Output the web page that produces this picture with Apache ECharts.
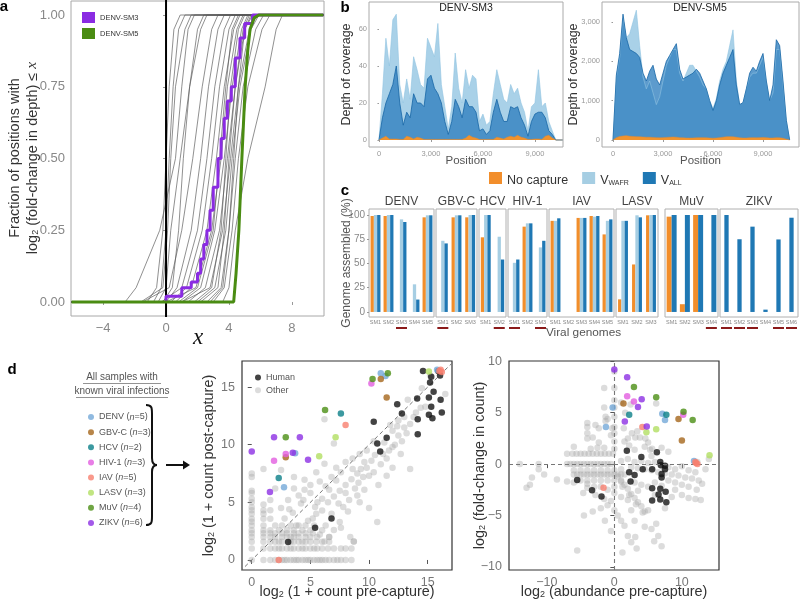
<!DOCTYPE html>
<html>
<head>
<meta charset="utf-8">
<script src="https://cdn.jsdelivr.net/npm/echarts@6.0.0/dist/echarts.min.js"></script>
<style>
html,body{margin:0;padding:0;background:#ffffff;}
#chart{width:800px;height:601px;}
</style>
</head>
<body>
<div id="chart"></div>
<script>
// ======================= DATA =======================
// ---- Panel a: CDFs of log2 fold-change in depth ----
const cdfFractions = [0, 0.05, 0.25, 0.5, 0.75, 0.95, 1];
const grayCdfX = [
  [-2.6, -1.9, -0.4, 0.6, 1.0, 1.4, 1.8],
  [-1.2, -0.6, -0.2, 0.0, 0.2, 0.5, 0.9],
  [-0.8, -0.3, 0.0, 0.2, 0.45, 0.8, 1.2],
  [-1.6, -0.2, 0.1, 0.3, 0.6, 1.2, 1.6],
  [-0.5, 0.0, 0.3, 0.9, 1.5, 2.2, 2.6],
  [-1.5, 0.2, 1.0, 1.7, 2.3, 2.9, 3.3],
  [0.0, 0.7, 1.6, 2.2, 2.7, 3.3, 3.7],
  [-0.3, 1.0, 2.0, 2.6, 3.1, 3.7, 4.1],
  [0.3, 1.3, 2.3, 2.9, 3.4, 4.0, 4.4],
  [0.6, 1.6, 2.6, 3.2, 3.7, 4.3, 4.7],
  [0.0, 1.9, 2.9, 3.5, 3.9, 4.5, 4.9],
  [1.0, 2.2, 3.1, 3.7, 4.2, 4.8, 5.2],
  [1.4, 2.5, 3.4, 3.9, 4.4, 5.0, 5.5],
  [1.0, 2.8, 3.6, 4.1, 4.6, 5.3, 5.8],
  [2.0, 3.1, 3.8, 4.2, 4.7, 5.4, 5.9],
  [2.6, 3.5, 4.0, 4.4, 4.9, 5.7, 6.2],
  [3.0, 3.7, 4.2, 4.6, 5.2, 6.1, 6.6],
  [3.6, 4.0, 4.4, 5.2, 6.3, 7.0, 7.4],
  [0.8, 2.0, 3.0, 3.4, 3.8, 4.2, 4.6],
  [2.8, 3.6, 4.0, 4.3, 4.6, 5.0, 5.4],
  [-0.2, 0.4, 0.8, 1.1, 1.5, 2.0, 2.4],
  [1.8, 2.9, 3.5, 3.8, 4.1, 4.6, 5.0],
  [2.2, 3.3, 3.7, 4.0, 4.4, 4.9, 5.3]
];
const sm3X = [0, 0, 1.0, 1.0, 1.6, 2.0, 2.2, 2.4, 2.6, 2.8, 3.0, 3.3, 3.5, 3.7, 3.9, 4.15, 4.4, 4.7, 5.0, 5.5, 10];
const sm3Y = [0, 0.02, 0.02, 0.05, 0.07, 0.1, 0.15, 0.2, 0.25, 0.32, 0.4, 0.5, 0.57, 0.64, 0.7, 0.75, 0.85, 0.92, 0.97, 1.0, 1.0];
const sm5X = [-6, 4.3, 4.45, 4.63, 4.82, 4.92, 5.03, 5.2, 5.34, 5.6, 5.9, 10];
const sm5Y = [0, 0, 0.1, 0.25, 0.5, 0.62, 0.75, 0.88, 0.95, 0.99, 1.0, 1.0];
const zeroLine = [[0, -1], [0, 2]];
const aXTicks = [-4, 0, 4, 8];
const aYTicks = [0, 0.25, 0.5, 0.75, 1];

// ---- Panel b: depth of coverage ----
const covPositions = [0,200,400,600,800,1000,1200,1400,1600,1800,2000,2200,2400,2600,2800,3000,3200,3400,3600,3800,4000,4200,4400,4600,4800,5000,5200,5400,5600,5800,6000,6200,6400,6600,6800,7000,7200,7400,7600,7800,8000,8200,8400,8600,8800,9000,9200,9400,9600,9800,10000,10200,10400,10600];
const sm3Wafr = [0,25,55,40,65,68,30,20,33,22, 45,38,30,28,55,50,45,63,30,18, 6,18,47,28,20,38,28,35,33,10, 14,8,10,25,38,30,22,20,30,25, 28,20,15,5,18,20,38,18,20,10, 5,0,0,0];
const sm3All  = [0,12,20,25,30,40,20,8,15,12, 25,20,20,18,33,35,28,25,20,10, 3,10,22,18,12,22,18,18,15,5, 6,3,5,15,22,15,10,10,18,17, 18,12,8,2,10,14,15,15,12,5, 3,0,0,0];
const sm3None = [0,1,2,0.5,0.5,0.5,0.3,0.3,2,1.5, 0.5,1.5,1,0.3,0.3,0.3,0.3,0.3,0.3,0.3, 0.3,0.3,0.3,0.3,0.3,1,2.5,1.5,1,0.3, 0.3,0.3,0.3,0.3,1.5,1,0.5,1.5,2,1.5, 2.5,1.5,1,0.3,0.3,0.5,0.5,0.3,2,2.5, 1,0,0,0];
const sm5Wafr = [0,1600,2100,3100,2600,2700,3000,3300,2400,1600, 1300,1500,1200,900,1100,1500,1900,2100,2300,2300, 1700,1500,1700,1900,1900,1750,1600,1400,1300,1000, 800,1050,1500,1800,2000,2400,2800,1500,900,950, 1300,1600,1700,1700,1900,2100,1500,1000,1200,2300, 2300,1400,500,0];
const sm5All  = [0,1650,2200,3200,2600,2300,2250,2200,2100,1700, 1500,1750,1900,1550,1400,1700,2000,2150,2300,2450, 1800,1550,1600,1650,1700,1800,1700,1500,1300,1000, 750,1000,1400,1700,1900,2100,2300,1400,900,950, 1300,1700,1850,1750,2000,2200,1500,1000,1400,2550, 2400,1500,500,0];
const sm5None = [0,60,90,100,110,95,90,85,80,75, 70,70,65,60,55,60,65,70,75,70, 60,55,50,50,50,55,60,60,55,50, 45,50,60,70,80,85,80,70,55,50, 50,55,60,55,60,65,60,50,50,60, 55,45,20,0];
const bXTicks = [0, 3000, 6000, 9000];
const bYTicksSM3 = [0, 20, 40, 60];
const bYTicksSM5 = [0, 1000, 2000, 3000];

// ---- Panel c: genome assembled (%) ----
const virusFacets = ['DENV','GBV-C','HCV','HIV-1','IAV','LASV','MuV','ZIKV'];
const facetSamples = [
  ['SM1','SM2','SM3','SM4','SM5'], ['SM1','SM2','SM3'], ['SM1','SM2'], ['SM1','SM2','SM3'],
  ['SM1','SM2','SM3','SM4','SM5'], ['SM1','SM2','SM3'], ['SM1','SM2','SM3','SM4'],
  ['SM1','SM2','SM3','SM4','SM5','SM6']
];
const pctNoCapture = [[99,99,0,0,97.6],[0,97.6,97.6],[77,0],[0,88,0],[94,0,97,99,80],[13,49,99.7],[98.3,8,100,0],null];
const pctWafr      = [[100,100,95.5,28.5,99.7],[73.4,99.7,100],[100,77.6],[50.7,91.4,66.6],[94,0,97,98.3,94],[94,99.7,100],null,null];
const pctAll       = [[100,100,92.8,12.8,99.7],[70.7,99.7,100],[100,54.1],[54.1,91.4,73.4],[96.6,0,97,99,95.5],[94,97.6,100],[100,100,100,100],[100,75,88,2.4,74.8,97.2]];
const underlined   = [[0,0,1,0,0],[1,0,0],[0,1],[1,0,1],[0,0,0,0,0],[0,0,0],[0,0,0,1],[1,1,1,0,1,1]];
const cYTicks = [0, 25, 50, 75, 100];

// ---- Panel d: read counts ----
const virusNames  = ['DENV','GBV-C','HCV','HIV-1','IAV','LASV','MuV','ZIKV'];
const virusCounts = [5, 3, 2, 3, 5, 3, 4, 6];
const virusPrePost = [
  [[3.7,9.25],[2.75,6.3],[11.0,16.2],[11.4,15.95],[15.8,16.5]],
  [[2.9,8.9],[11.0,15.7],[11.5,14.1]],
  [[2.3,7.1],[7.6,12.7]],
  [[1.9,8.6],[2.9,9.2],[10.2,15.3]],
  [[8.0,11.7],[2.3,0],[16.0,16.4],[16.2,16.3],[16.1,16.5]],
  [[7.15,10.65],[5.75,9.0],[15.1,16.35]],
  [[2.9,10.65],[6.25,13.0],[10.3,15.7],[11.6,16.2]],
  [[0,9.4],[1.9,10.65],[4.1,10.65],[3.5,9.3],[4.8,8.7],[1.55,5.9]]
];
const virusAbundFold = [
  [[-0.25,5.5],[-1.25,3.6],[7.1,4.9],[7.5,4.3],[11.8,0.3]],
  [[1.35,5.9],[9.5,4.4],[10.0,2.3]],
  [[2.2,4.8],[7.7,4.8]],
  [[1.9,6.6],[2.9,6.1],[10.2,4.8]],
  [[4.15,3.6],[-1.6,-2.3],[12.1,0.1],[12.3,0.0],[12.0,0.2]],
  [[4.75,3.1],[6.2,3.4],[14.1,0.87]],
  [[2.9,7.5],[6.2,6.5],[10.25,5.1],[11.6,4.3]],
  [[0,9.2],[1.9,8.45],[4.05,6.3],[3.5,5.55],[1.55,4.15],[4.8,3.65]]
];
const humanPrePost = [[3.1,1.55],[5.4,2.8],[6.8,3.6],[10.4,12.0],[10.7,10.1],[10.95,9.4],[11.5,10.6],[12.4,13.5],[12.8,12.7],[14.1,14.0],[14.15,12.2],[14.15,10.9],[14.6,16.4],[15.2,15.4],[15.3,15.9],[15.5,14.6],[15.1,14.1],[15.3,13.3],[15.1,12.6],[15.4,12.3],[16.05,16.0],[16.1,13.9],[16.2,12.8],[15.9,16.4]];
const humanAbundFold = [[1.85,1.3],[6.3,1.15],[4.0,0.7],[6.8,0.2],[6.9,-0.1],[7.5,-0.15],[7.5,-0.5],[4.2,-0.5],[5.6,-0.5],[2.2,-0.8],[3.0,-1.05],[2.4,-1.7],[7.0,-1.3],[-5.5,-1.55],[-3.3,-2.55],[-1.9,-3.15],[5.6,-2.35],[6.8,-2.4],[6.55,-2.95],[7.6,-2.7],[6.8,-3.45],[5.6,-3.55],[7.7,-3.7],[7.0,-0.97]];
const otherPrePost = [
  [0,0],[1,0],[1.58,0],[2,0],[2.32,0],[2.58,0],[2.81,0],[3,0],[3.32,0],[3.58,0],[3.81,0],[4,0],[4.32,0],[4.58,0],[4.81,0],[5,0],[5.32,0],[5.58,0],[5.81,0],[6.02,0],[6.3,0],[6.6,0],[7,0],[7.3,0],[7.6,0],[8,0],[8.5,0],
  [0,1],[1,1],[1.58,1],[2,1],[2.32,1],[2.58,1],[3,1],[3.32,1],[3.58,1],[4,1],[4.32,1],[4.58,1],[5,1],[5.32,1],[5.58,1],[6,1],[6.5,1],[7,1],[7.6,1],[8,1],[8.5,1],
  [0,1.58],[1,1.58],[1.58,1.58],[2,1.58],[2.32,1.58],[2.58,1.58],[3.32,1.58],[3.58,1.58],[4,1.58],[4.32,1.58],[4.58,1.58],[5,1.58],[5.5,1.58],[6,1.58],[6.6,1.58],[8.7,1.6],
  [0,2],[1,2],[1.58,2],[2,2],[2.58,2],[3,2],[3.32,2],[3.58,2],[4,2],[4.58,2],[5,2],[5.58,2],[6.6,2],[8.4,2],
  [0,2.32],[1,2.32],[1.58,2.32],[2,2.32],[2.58,2.32],[3,2.32],[3.58,2.32],[4,2.32],[4.58,2.32],[5.2,2.32],[5.8,2.2],
  [0,2.58],[1,2.58],[1.58,2.58],[2.32,2.58],[3,2.58],[3.58,2.58],[4.32,2.58],[5,2.58],[6,2.58],[7,2.6],[7.6,2.8],
  [0,3],[1,3],[2,3],[2.58,3],[3.32,3],[4,3],[4.58,3],[5.32,3],[6.3,3],
  [0,3.32],[0,3.58],[0,4],[0,4.32],[0,4.58],[0,5],[0,5.32],[0,5.81],[0,6],[0,7.2],[0,7.5],
  [1,3.58],[1,4],[1,4.32],[1,4.81],[1,7.9],[1.58,3.58],[1.58,4.32],[1.58,5.2],
  [2.5,7.8],[3.6,7.2],[4.5,6.95],[5.5,7.6],[6.2,8.35],[2.0,6.2],[3.6,6.2],[4.5,6.1],[3.1,5.2],[2.5,4.5],[3.5,4.1],[4.2,4.9],
  [5.2,3.6],[6.0,4.3],[6.5,5.0],[7.0,5.5],[5.6,5.0],[6.8,4.0],[7.5,3.3],[7.8,4.6],[8.3,5.2],[4.8,3.4],[3.8,3.0],[5.5,4.0],
  [6.3,6.4],[7.2,6.9],[4.0,5.6],[5.0,5.8],[6.6,6.1],[7.5,6.0],[8,6.5],[8.5,7],[8.0,5.8],[8.8,6.2],[9,7.5],[9.3,7.9],
  [9.5,7.2],[8.6,7.9],[9.1,6.7],[9.8,8.0],[10.0,7.3],[9.6,8.5],[10.2,8.6],[10.5,9.1],[10.4,7.6],[11.0,8.3],[11.2,9.2],[11.5,8.8],
  [11.7,9.5],[12.0,9.8],[12.2,10.0],[12.5,10.8],[12.8,10.3],[13.0,11.5],[13.2,11.0],[13.5,11.8],[12.0,11.2],[11.3,10.2],[12.4,11.6],[13.8,12.4],
  [14.0,12.8],[14.4,13.2],[13.0,12.4],[12.5,12.1],[11.8,11.7],[13.3,13.9],[14.5,14.9],[13.5,7.9],[10.0,4.5],[10.7,3.3],[9.0,5.6],[9.6,6.1],
  [10.8,6.5],[11.5,7.3],[12.0,8.0],[12.7,9.2],[7.6,7.6],[6.2,12.2],[7.0,10.1],[8.0,8.5],[8.6,8.8],[9.2,9.2],[9.8,9.5],[10.4,10.3],
  [7.2,8.0],[6.8,7.2],[5.8,6.8],[5.0,6.5],[4.4,5.2],[3.2,4.4],[2.8,3.6],[5.4,4.6],[6.0,5.3],[7.4,4.9],[8.2,4.2],[9.2,5.0],
  [8.7,1.6],[6.6,2.0],[6.2,1.6],[15.2,16.0],[16.5,14.4],[14.8,13.3]
];
const otherAbundFold = [
  [-14,0],[-11.2,0],[-7,0],[-6.5,0],[-6,0],[-5.5,0],[-5,0],[-4.5,0],[-4,0],[-3.5,0],[-3,0],[-2.5,0],[-2,0],[-1.5,0],[-1,0],[-0.5,0],
  [-6.2,1],[-5.6,1],[-5,1],[-4.4,1],[-3.8,1],[-3.2,1],[-2.6,1],[-2,1],[-1.4,1],[-0.8,1],[-0.2,1],[-7,1],[-3.5,1.5],[-2.5,1.6],[-1.5,1.6],
  [-6,-1],[-5.5,-1],[-5,-1],[-4.5,-1],[-4,-1],[-3.5,-1],[-3,-1],[-2.5,-1],[-2,-1],[-1.5,-1],[-1,-1],[-0.5,-1],[0,-1],[0.5,-1],[1,-1],[1.5,-1],
  [-6,-0.6],[-5,-0.6],[-4,-0.6],[-3,-0.6],[-2,-0.6],[-1,-0.6],[0,-0.6],[1,-0.5],
  [-5,-1.6],[-4,-1.6],[-3,-1.6],[-2,-1.6],[-1,-1.6],[0,-1.6],[1,-1.7],
  [0.5,-1.2],[1,-1.6],[1.5,-2],[2,-2.4],[2.5,-2.9],[3,-3.3],[3.5,-3.7],[4,-4.1],[4.5,-4.6],[1.2,-2.2],[2.2,-3.0],[3.2,-3.9],
  [0,9],[0,7.4],[0,6.2],[0,5.5],[0,4.6],[0,3.6],[0,3.0],[0,2.2],[0,1.5],[0,-2.2],[0,-2.8],[-0.3,3.5],
  [-1.5,7.4],[-1.5,5.5],[-1.3,4.6],[-1.3,4.2],[-4,4],[-4,3.6],[-4,3.0],[-2.3,3.5],[-2.3,2.1],[-3.2,2.6],[-4,2.5],[-6,1.7],[-2.8,3.8],[-1,4.4],[-0.5,2.8],
  [1,6],[1.4,3.5],[1.6,5.0],[2.4,5.8],[2.6,3.0],[3.1,2.6],[3.4,3.2],[3.8,2.6],[4.6,2.5],[5.3,1.4],[5.0,2.1],[5.6,1.5],[6.2,5.9],[2.2,1.8],[1.5,2.2],[3,1.4],[4.5,1.7],[2.0,2.5],[7,1.6],[8,1.2],
  [2,0.5],[3,0.2],[4,0.3],[5,0.1],[5.5,0.8],[6,0.2],[1,0.3],[2.5,-0.3],[3.5,-0.4],[4.5,-0.5],[5.5,-0.6],[6.5,-0.8],[7.5,-0.9],[8.5,-1.0],[9.5,-1.1],[10.5,-1.3],
  [11.5,-1.4],[12.5,-1.6],[13,-1.9],[12.2,-2.5],[11,-2.2],[10,-2.0],[9,-1.8],[8,-1.6],[3,-1.8],[4,-2],[5,-2.2],[6,-1.8],[7,-2.1],[9,-2.5],[10,-3],[11,-3.3],
  [12,-3.4],[12.8,-3.5],[8.5,-3.2],[6,-3],[3.5,-2.6],[2,-3.5],[1,-3.2],[-1,-2.5],[-2,-2.2],[-3,-2.2],[-4,-2.3],[-4.6,-2.8],[-2.8,-3],[-1.5,-3.4],[-0.5,-3.6],[-4,-1.9],
  [-6,-1.8],[-7,-1.7],[-8.5,-1.5],[-10.4,-1.0],[-12.2,-1.3],[-11.2,-0.5],[-13,-2.3],[-12.5,-2.0],[8,-0.3],[9,-0.5],[10,-0.2],[11,-0.6],[12.3,0.2],[14,0.5],[13.5,-0.5],[12,-0.8],
  [-4.5,-5],[-5.5,-8.4],[-1.4,-5.5],[0.5,-5],[1.5,-6],[2,-7],[2.5,-7.6],[3.1,-7.1],[3.3,-8.2],[1.2,-8.6],[4.5,-6.1],[5.5,-6.3],[6.2,-5.8],[5.9,-7.5],[6.5,-7],[7,-8],
  [3,-5.5],[0,-4.5],[-1,-4],[-2,-4.3],[-3.2,-4.6],[4.2,-4.7],[5,-4.5],[7.5,-4.3],[2.5,-4.5],[-0.5,-6.5],[1,-5.5]
];
const identityLine = [[-1, -1], [18, 18]];
const dLeftTicks = [0, 5, 10, 15];
const dRightXTicks = [-10, 0, 10];
const dRightYTicks = [-10, -5, 0, 5, 10];

// ======================= STYLE / LAYOUT =======================
const FONT = '"Liberation Sans", Arial, Helvetica, sans-serif';
const COL_NONE = '#f28e2b', COL_WAFR = '#a6cee3', COL_ALL = '#1f78b4';
const virusColors = ['#74a9d8','#a5671c','#0b7f88','#e25ee0','#f7806f','#b2de62','#4b8f14','#8c2fe3'];
const cLeft  = [369, 436, 479, 508, 549, 616, 665, 720];
const cWidth = [65, 41, 27, 39, 65, 42, 53, 78];
const cBarWidth = [3.3, 3.3, 3.3, 3.3, 3.3, 3.3, 5, 4.3];

const grids = [], xAxes = [], yAxes = [], series = [];
function addGrid(left, top, width, height, border, bw) {
  grids.push({left, top, width, height, show: true, borderColor: border, borderWidth: bw || 1,
    backgroundColor: 'transparent', containLabel: false, outerBoundsMode: 'none'});
  return grids.length - 1;
}
function valAxis(gi, min, max, ticks, o) {
  o = o || {};
  return {
    type: 'value', gridIndex: gi, min, max, scale: false,
    axisLine: {show: false}, splitLine: {show: false},
    axisTick: {show: o.ticks !== false, length: o.tickLen || 3, customValues: ticks,
      lineStyle: {color: o.tickColor || '#999', width: 1}},
    axisLabel: {show: o.labels !== false, customValues: ticks, margin: o.margin || 5,
      fontSize: o.fontSize || 12, color: o.color || '#888', fontFamily: FONT,
      formatter: o.formatter}
  };
}
const minusFmt = v => (v < 0 ? '\u2212' + Math.abs(v) : String(v));
const commaFmt = v => Number(v).toLocaleString('en-US');
const zip = (xs, ys) => xs.map((x, i) => [x, ys[i]]);

// ---- Panel a ----
const gA = addGrid(71, 1, 253, 315, '#a8a8a8');
const A_XMIN = -6.04, A_XMAX = 10.04;
xAxes.push(valAxis(gA, A_XMIN, A_XMAX, aXTicks, {fontSize: 13, color: '#888', margin: 6, formatter: minusFmt}));
yAxes.push(valAxis(gA, -0.0488, 1.0488, aYTicks, {fontSize: 13, color: '#888', margin: 6, formatter: v => v.toFixed(2)}));
const axA = xAxes.length - 1, ayA = yAxes.length - 1;
grayCdfX.forEach(xs => {
  series.push({type: 'line', xAxisIndex: axA, yAxisIndex: ayA, silent: true, symbol: 'none', showSymbol: false,
    data: [[A_XMIN, 0]].concat(zip(xs, cdfFractions), [[A_XMAX, 1]]),
    lineStyle: {color: '#5a5a5a', width: 0.8, opacity: 0.85}, z: 2});
});
series.push({type: 'line', xAxisIndex: axA, yAxisIndex: ayA, silent: true, symbol: 'none', data: zeroLine,
  lineStyle: {color: '#000', width: 2}, z: 3});
series.push({type: 'line', name: 'DENV-SM3', xAxisIndex: axA, yAxisIndex: ayA, symbol: 'none', step: 'end',
  data: zip(sm3X, sm3Y), lineStyle: {color: '#8a2be2', width: 3}, itemStyle: {color: '#8a2be2'}, z: 4});
series.push({type: 'line', name: 'DENV-SM5', xAxisIndex: axA, yAxisIndex: ayA, symbol: 'none',
  data: zip(sm5X, sm5Y), lineStyle: {color: '#4a8c12', width: 3}, itemStyle: {color: '#4a8c12'}, z: 5});

// ---- Panel b ----
function coveragePanel(left, width, xmin, xmax, ymin, ymax, yTicks, wafr, all, none) {
  const g = addGrid(left, 2, width, 145, '#aaaaaa');
  xAxes.push(valAxis(g, xmin, xmax, bXTicks, {fontSize: 7.5, color: '#999', margin: 3, tickLen: 2, formatter: commaFmt}));
  yAxes.push(valAxis(g, ymin, ymax, yTicks, {fontSize: 7.5, color: '#999', margin: 2, tickLen: 1.5, formatter: commaFmt}));
  const xi = xAxes.length - 1, yi = yAxes.length - 1;
  series.push({type: 'line', name: 'V_WAFR', xAxisIndex: xi, yAxisIndex: yi, symbol: 'none', silent: true,
    data: zip(covPositions, wafr), lineStyle: {width: 0.6, color: '#8fc3e0'},
    areaStyle: {color: '#a9d1e8', opacity: 1}, itemStyle: {color: COL_WAFR}});
  series.push({type: 'line', name: 'V_ALL', xAxisIndex: xi, yAxisIndex: yi, symbol: 'none', silent: true,
    data: zip(covPositions, all), lineStyle: {width: 0.8, color: '#1766a6'},
    areaStyle: {color: '#2f7fbf', opacity: 0.78}, itemStyle: {color: COL_ALL}});
  series.push({type: 'line', name: 'No capture', xAxisIndex: xi, yAxisIndex: yi, symbol: 'none', silent: true,
    data: zip(covPositions, none), lineStyle: {width: 0.5, color: '#e8892a'},
    areaStyle: {color: '#f0932e', opacity: 1}, itemStyle: {color: COL_NONE}});
}
coveragePanel(369, 194, -575, 10620, -3.8, 74.6, bYTicksSM3, sm3Wafr, sm3All, sm3None);
coveragePanel(602, 197, -660, 11160, -178, 3509, bYTicksSM5, sm5Wafr, sm5All, sm5None);

// ---- Panel c ----
virusFacets.forEach((f, i) => {
  const g = addGrid(cLeft[i], 209, cWidth[i], 108, '#b0b0b0');
  xAxes.push({type: 'category', gridIndex: g, data: facetSamples[i],
    axisLine: {show: false}, axisTick: {show: false}, splitLine: {show: false},
    axisLabel: {interval: 0, margin: 2, fontSize: 5.5, color: '#888', fontFamily: FONT, lineHeight: 7,
      formatter: (v, idx) => underlined[i][idx] ? v + '\n{u| }' : v,
      rich: {u: {width: 11, height: 2, lineHeight: 4, backgroundColor: '#8b1a1a', fontSize: 1}}}});
  yAxes.push(valAxis(g, -5.2, 106.2, cYTicks, {labels: i === 0, ticks: i === 0, fontSize: 10, color: '#888', margin: 4, tickLen: 2}));
  const xi = xAxes.length - 1, yi = yAxes.length - 1;
  const common = {type: 'bar', xAxisIndex: xi, yAxisIndex: yi, barWidth: cBarWidth[i], barGap: '0%', silent: true};
  if (pctNoCapture[i]) series.push(Object.assign({name: 'No capture', data: pctNoCapture[i], itemStyle: {color: COL_NONE}}, common));
  if (pctWafr[i]) series.push(Object.assign({name: 'V_WAFR', data: pctWafr[i], itemStyle: {color: COL_WAFR}}, common));
  if (pctAll[i]) series.push(Object.assign({name: 'V_ALL', data: pctAll[i], itemStyle: {color: COL_ALL}}, common));
});

// ---- Panel d ----
const gD1 = addGrid(242, 361, 210, 209, '#333', 1.2);
xAxes.push(valAxis(gD1, -0.83, 17.07, dLeftTicks, {fontSize: 12.5, color: '#777', margin: 6, tickLen: 4, tickColor: '#555'}));
yAxes.push(valAxis(gD1, -0.87, 17.26, dLeftTicks, {fontSize: 12.5, color: '#777', margin: 7, tickLen: 4, tickColor: '#555'}));
const xD1 = xAxes.length - 1, yD1 = yAxes.length - 1;
const gD2 = addGrid(509, 361, 210, 209, '#333', 1.2);
xAxes.push(valAxis(gD2, -15.6, 15.5, dRightXTicks, {fontSize: 12.5, color: '#777', margin: 6, tickLen: 4, tickColor: '#555', formatter: minusFmt}));
yAxes.push(valAxis(gD2, -10.3, 10.03, dRightYTicks, {fontSize: 12.5, color: '#777', margin: 7, tickLen: 4, tickColor: '#555', formatter: minusFmt}));
const xD2 = xAxes.length - 1, yD2 = yAxes.length - 1;

const otherStyle = {color: 'rgba(168,168,168,0.5)'};
series.push({type: 'scatter', name: 'Other', xAxisIndex: xD1, yAxisIndex: yD1, data: otherPrePost, symbolSize: 6.5,
  itemStyle: otherStyle, silent: true});
series.push({type: 'line', xAxisIndex: xD1, yAxisIndex: yD1, data: identityLine, symbol: 'none', silent: true,
  lineStyle: {color: '#777', width: 1, type: [4, 3]}, z: 3});
series.push({type: 'scatter', name: 'Other', xAxisIndex: xD2, yAxisIndex: yD2, data: otherAbundFold, symbolSize: 6.5,
  itemStyle: otherStyle, silent: true,
  markLine: {symbol: 'none', silent: true, label: {show: false}, animation: false,
    lineStyle: {color: '#777', width: 1.1, type: [4, 3]}, data: [{xAxis: 0}, {yAxis: 0}]}});
series.push({type: 'scatter', name: 'Human', xAxisIndex: xD1, yAxisIndex: yD1, data: humanPrePost, symbolSize: 6.5,
  itemStyle: {color: '#141414'}, silent: true, z: 4});
series.push({type: 'scatter', name: 'Human', xAxisIndex: xD2, yAxisIndex: yD2, data: humanAbundFold, symbolSize: 6.5,
  itemStyle: {color: '#141414'}, silent: true, z: 4});
virusNames.forEach((v, i) => {
  series.push({type: 'scatter', name: v, xAxisIndex: xD1, yAxisIndex: yD1, data: virusPrePost[i], symbolSize: 6.5,
    itemStyle: {color: virusColors[i]}, silent: true, z: 5});
  series.push({type: 'scatter', name: v, xAxisIndex: xD2, yAxisIndex: yD2, data: virusAbundFold[i], symbolSize: 6.5,
    itemStyle: {color: virusColors[i]}, silent: true, z: 5});
});

// ---- Legends ----
const legends = [
  {data: ['DENV-SM3', 'DENV-SM5'], left: 77, top: 7, orient: 'vertical', icon: 'rect', itemWidth: 13, itemHeight: 11,
    itemGap: 5, selectedMode: false, textStyle: {fontSize: 7.5, color: '#333', fontFamily: FONT}},
  {data: ['No capture', 'V_WAFR', 'V_ALL'], left: 484, top: 167, orient: 'horizontal', icon: 'rect',
    itemWidth: 13, itemHeight: 12, itemGap: 14, selectedMode: false,
    formatter: n => n === 'V_WAFR' ? '{v|V}{s|WAFR}' : (n === 'V_ALL' ? '{v|V}{s|ALL}' : '{v|' + n + '}'),
    textStyle: {fontFamily: FONT, color: '#333', rich: {
      v: {fontSize: 12.5, lineHeight: 18, verticalAlign: 'bottom', color: '#333', fontFamily: FONT},
      s: {fontSize: 7, lineHeight: 6, verticalAlign: 'bottom', color: '#333', fontFamily: FONT}}}},
  {data: ['Human', 'Other'], left: 250, top: 367, orient: 'vertical', icon: 'circle', itemWidth: 6, itemHeight: 6,
    itemGap: 1.7, selectedMode: false, textStyle: {fontSize: 9, lineHeight: 11, color: '#555', fontFamily: FONT}},
  {data: virusNames, left: 83, top: 405.5, orient: 'vertical', icon: 'circle', itemWidth: 6, itemHeight: 6,
    itemGap: 2.14, selectedMode: false,
    formatter: n => '{t|' + n + ' (}{i|n}{t|=' + virusCounts[virusNames.indexOf(n)] + ')}',
    textStyle: {fontSize: 9, lineHeight: 13, color: '#555', fontFamily: FONT, rich: {
      t: {fontSize: 9, lineHeight: 13, color: '#555', fontFamily: FONT},
      i: {fontSize: 9, lineHeight: 13, color: '#555', fontFamily: FONT, fontStyle: 'italic'}}}}
];

// ---- Graphic annotations ----
function txt(x, y, text, o) {
  o = o || {};
  return {type: 'text', x, y, rotation: o.rot || 0, silent: true, z: 100,
    style: {text, fill: o.fill || '#333', fontSize: o.size || 12, fontFamily: o.family || FONT,
      fontWeight: o.weight || 'normal', fontStyle: o.style || 'normal',
      align: o.align || 'center', verticalAlign: 'middle', textAlign: o.align || 'center', textVerticalAlign: 'middle',
      rich: o.rich}};
}
function subRich(size, fill) {
  return {
    t: {fontSize: size, lineHeight: size + 4, verticalAlign: 'bottom', fill: fill, color: fill, fontFamily: FONT},
    s: {fontSize: Math.round(size * 0.6), lineHeight: Math.round(size * 0.5), verticalAlign: 'bottom', fill: fill, color: fill, fontFamily: FONT},
    i: {fontSize: size + 1, lineHeight: size + 4, verticalAlign: 'bottom', fill: fill, color: fill,
      fontFamily: '"Liberation Serif", "DejaVu Serif", serif', fontStyle: 'italic'}
  };
}
function bez(x1, y1, c1x, c1y, c2x, c2y, x2, y2) {
  return {type: 'bezierCurve', silent: true, z: 100,
    shape: {x1, y1, cpx1: c1x, cpy1: c1y, cpx2: c2x, cpy2: c2y, x2, y2},
    style: {stroke: '#111', lineWidth: 2, fill: null}};
}
function seg(x1, y1, x2, y2, stroke, w) {
  return {type: 'line', silent: true, z: 100, shape: {x1, y1, x2, y2}, style: {stroke, lineWidth: w}};
}
const R90 = Math.PI / 2;
const graphics = [
  txt(4, 7, 'a', {weight: 'bold', size: 15, fill: '#000'}),
  txt(345, 8, 'b', {weight: 'bold', size: 15, fill: '#000'}),
  txt(345, 191, 'c', {weight: 'bold', size: 15, fill: '#000'}),
  txt(12, 370, 'd', {weight: 'bold', size: 15, fill: '#000'}),
  // panel a titles
  txt(15, 158, 'Fraction of positions with', {rot: R90, size: 14.5, fill: '#333'}),
  txt(31, 158, '{t|log}{s|2}{t| (fold-change in depth) \u2264 }{i|x}', {rot: R90, size: 14.5, fill: '#333', rich: subRich(14.5, '#333')}),
  txt(198, 338, 'x', {size: 23, family: '"Liberation Serif", "DejaVu Serif", serif', style: 'italic', fill: '#111'}),
  // panel b titles
  txt(466, 8.5, 'DENV-SM3', {size: 10.5, fill: '#222'}),
  txt(700, 8.5, 'DENV-SM5', {size: 10.5, fill: '#222'}),
  txt(347, 74.5, 'Depth of coverage', {rot: R90, size: 12.5, fill: '#333'}),
  txt(574, 74.5, 'Depth of coverage', {rot: R90, size: 12.5, fill: '#333'}),
  txt(466, 161, 'Position', {size: 11.5, fill: '#555'}),
  txt(700.5, 161, 'Position', {size: 11.5, fill: '#555'}),
  // panel c titles
  txt(347, 263, 'Genome assembled (%)', {rot: R90, size: 12, fill: '#555'}),
  txt(583.5, 333, 'Viral genomes', {size: 11.8, fill: '#555'}),
  // panel d titles
  txt(207, 465.5, '{t|log}{s|2}{t| (1 + count post-capture)}', {rot: R90, size: 14.4, fill: '#333', rich: subRich(14.4, '#333')}),
  txt(347, 590, '{t|log}{s|2}{t| (1 + count pre-capture)}', {size: 14.4, fill: '#333', rich: subRich(14.4, '#333')}),
  txt(478, 465.5, '{t|log}{s|2}{t| (fold-change in count)}', {rot: R90, size: 14.4, fill: '#333', rich: subRich(14.4, '#333')}),
  txt(614, 590, '{t|log}{s|2}{t| (abundance pre-capture)}', {size: 14.4, fill: '#333', rich: subRich(14.4, '#333')}),
  // d left-hand annotation
  txt(122, 377, 'All samples with', {size: 10, fill: '#555'}),
  txt(122, 391, 'known viral infections', {size: 10, fill: '#555'}),
  seg(83, 383.5, 161, 383.5, '#777', 0.8),
  seg(76, 397.5, 168, 397.5, '#777', 0.8),
  bez(146, 405, 152, 405, 152, 408, 152, 414),
  seg(152, 414, 152, 458, '#111', 2),
  bez(152, 458, 152, 463, 154, 465, 157, 465),
  bez(157, 465, 154, 465, 152, 467, 152, 472),
  seg(152, 472, 152, 516, '#111', 2),
  bez(152, 516, 152, 522, 152, 525, 146, 525),
  seg(166, 465, 184, 465, '#111', 2),
  {type: 'polygon', silent: true, z: 100, shape: {points: [[183, 460.5], [190, 465], [183, 469.5]]}, style: {fill: '#111'}}
];
// strip titles for panel c
virusFacets.forEach((f, i) => graphics.push(txt(cLeft[i] + cWidth[i] / 2, 202, f, {size: 12, fill: '#444'})));

const chart = echarts.init(document.getElementById('chart'), null, {renderer: 'canvas', width: 800, height: 601});
chart.setOption({
  animation: false,
  backgroundColor: '#ffffff',
  textStyle: {fontFamily: FONT},
  grid: grids, xAxis: xAxes, yAxis: yAxes, series: series,
  legend: legends, graphic: graphics, tooltip: {show: false}
});
</script>
</body>
</html>
